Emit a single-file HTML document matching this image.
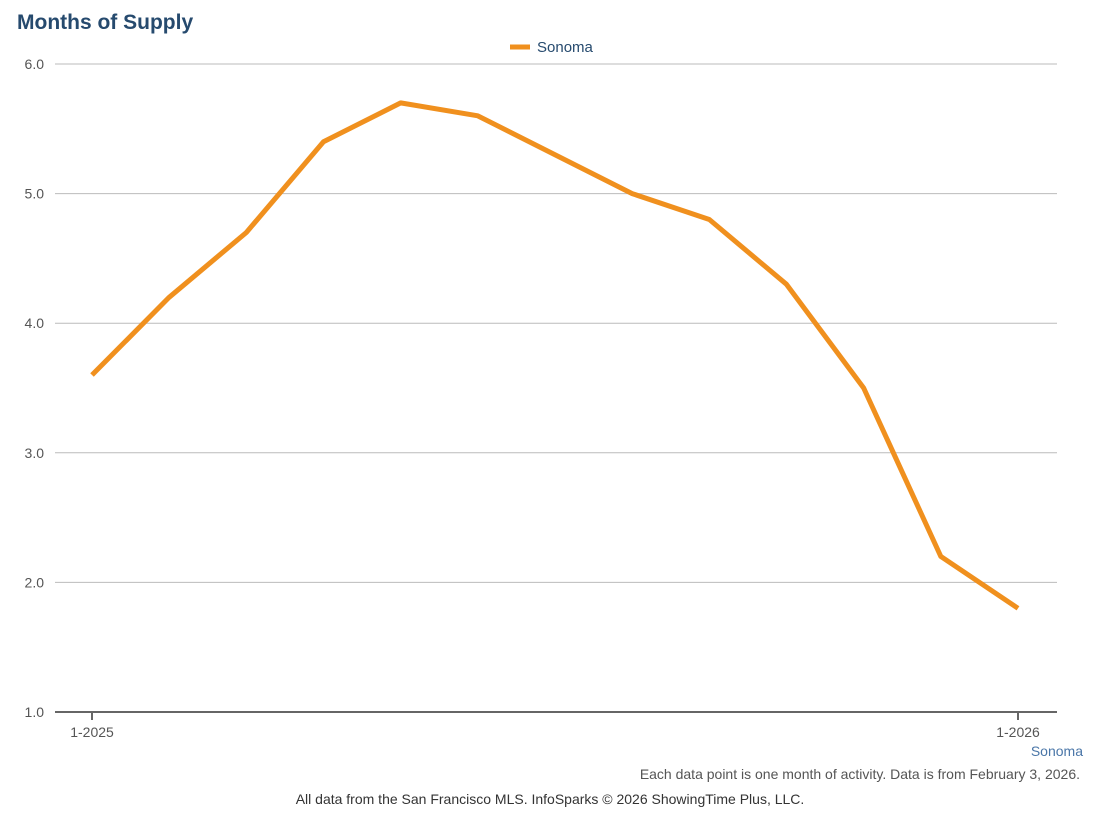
<!DOCTYPE html>
<html><head><meta charset="utf-8"><style>
body{margin:0;background:#fff;font-family:"Liberation Sans",sans-serif;}
svg{display:block}
</style></head><body>
<svg width="1102" height="824">
<text x="17" y="29" font-size="21" font-weight="bold" fill="#264a6e">Months of Supply</text>
<g>
<line x1="510" y1="47" x2="530" y2="47" stroke="#f0901e" stroke-width="5"/>
<text x="537" y="52" font-size="15" fill="#264a6e">Sonoma</text>
</g>
<g id="grid"></g>
<g id="ylabels"></g>
<g id="xaxis"></g>
<polyline id="line" fill="none" stroke="#f0901e" stroke-width="5" stroke-linejoin="round"/>
<text x="1083" y="756" font-size="14" fill="#4a76a8" text-anchor="end">Sonoma</text>
<text x="1080" y="779" font-size="14" fill="#555" text-anchor="end">Each data point is one month of activity. Data is from February 3, 2026.</text>
<text x="550" y="804" font-size="14" fill="#333" text-anchor="middle">All data from the San Francisco MLS. InfoSparks © 2026 ShowingTime Plus, LLC.</text>
</svg>
<script>
const values=[3.6,4.2,4.7,5.4,5.7,5.6,5.3,5.0,4.8,4.3,3.5,2.2,1.8];
const yTicks=[1,2,3,4,5,6];
const yTickLabels=["1.0","2.0","3.0","4.0","5.0","6.0"];
const xTickLabels=["1-2025","1-2026"];
const xTickIdx=[0,12];
const ns="http://www.w3.org/2000/svg";
const y=v=>712-(v-1)*129.6;
const x=i=>92+i*(1018-92)/12;
function mk(t,a,p){const e=document.createElementNS(ns,t);for(const k in a)e.setAttribute(k,a[k]);p.appendChild(e);return e;}
const g=document.getElementById('grid'),yl=document.getElementById('ylabels'),xa=document.getElementById('xaxis');
yTicks.forEach((v,i)=>{
 if(v>1){const l=mk('line',{x1:55,x2:1057,y1:y(v),y2:y(v),stroke:'#bbb','stroke-width':1},g);
 
 }
 const t=mk('text',{x:44,y:y(v)+5,'font-size':14,fill:'#555','text-anchor':'end'},yl);t.textContent=yTickLabels[i];
 
 
});
const ax=mk('line',{x1:55,x2:1057,y1:712,y2:712,stroke:'#666','stroke-width':2},xa);


xTickIdx.forEach((idx,i)=>{
 const tk=mk('line',{x1:x(idx),x2:x(idx),y1:712,y2:720,stroke:'#666','stroke-width':2},xa);
 
 
 const t=mk('text',{x:x(idx),y:737,'font-size':14,fill:'#555','text-anchor':'middle'},xa);t.textContent=xTickLabels[i];
 
 
});
document.getElementById('line').setAttribute('points',values.map((v,i)=>x(i)+','+y(v)).join(' '));
</script>
</body></html>
